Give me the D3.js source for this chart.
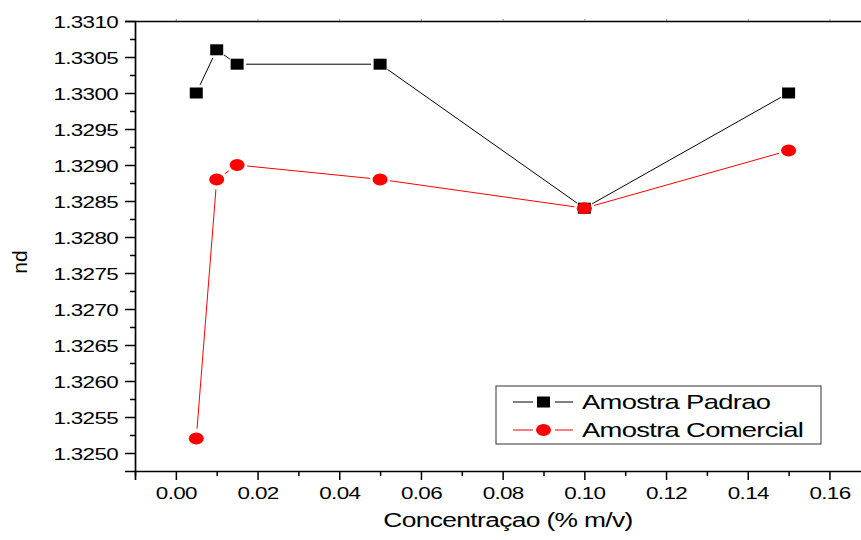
<!DOCTYPE html>
<html>
<head>
<meta charset="utf-8">
<script src="https://cdn.jsdelivr.net/npm/d3@7"></script>
<style>
  html, body { margin: 0; padding: 0; background: #fff; }
  svg { display: block; }
  text { font-family: "Liberation Sans", Arial, sans-serif; fill: #000; }
</style>
</head>
<body>
<script>
// Refractive index (nd) versus concentration for the two samples
const concentrations = [0.005, 0.01, 0.015, 0.05, 0.10, 0.15];
const padraoValues = [1.3300, 1.3306, 1.3304, 1.3304, 1.3284, 1.3300];
const comercialValues = [1.3252, 1.3288, 1.3290, 1.3288, 1.3284, 1.3292];
const seriesNames = ["Amostra Padrao", "Amostra Comercial"];
const xTickValues = [0.00, 0.02, 0.04, 0.06, 0.08, 0.10, 0.12, 0.14, 0.16];
const xMinorValues = [-0.01, 0.01, 0.03, 0.05, 0.07, 0.09, 0.11, 0.13, 0.15];
const yTickValues = [1.3250, 1.3255, 1.3260, 1.3265, 1.3270, 1.3275, 1.3280,
                     1.3285, 1.3290, 1.3295, 1.3300, 1.3305, 1.3310];
const yMinorValues = [1.32525, 1.32575, 1.32625, 1.32675, 1.32725, 1.32775,
                      1.32825, 1.32875, 1.32925, 1.32975, 1.33025, 1.33075];
const xTitle = "Concentraçao (% m/v)";
const yTitle = "nd";

const W = 861, H = 540;
const SX = 1.32; // horizontal glyph stretch
const LS = "-0.5px"; // tight letter spacing

const svg = d3.select("body").append("svg").attr("width", W).attr("height", H);

const x = d3.scaleLinear().domain([-0.01, 0.17]).range([135, 870.3]);
const y = d3.scaleLinear().domain([1.32475, 1.3310]).range([471, 21]);

const fmtX = d3.format(".2f");
const fmtY = d3.format(".4f");

// Bottom axis: major + minor ticks
const gx = svg.append("g").attr("transform", `translate(0,${y.range()[0]})`);
gx.call(d3.axisBottom(x).tickValues(xTickValues).tickSize(9).tickPadding(7).tickFormat(fmtX));
svg.append("g").attr("transform", `translate(0,${y.range()[0]})`)
  .call(d3.axisBottom(x).tickValues(xMinorValues).tickSize(5).tickFormat(""))
  .select(".domain").remove();

// Left axis: major + minor ticks
const gy = svg.append("g").attr("transform", `translate(${x.range()[0]},0)`);
gy.call(d3.axisLeft(y).tickValues(yTickValues).tickSize(10).tickPadding(7).tickFormat(fmtY));
svg.append("g").attr("transform", `translate(${x.range()[0]},0)`)
  .call(d3.axisLeft(y).tickValues(yMinorValues).tickSize(5).tickFormat(""))
  .select(".domain").remove();

// Top axis: line with tiny ticks
svg.append("g").attr("transform", `translate(0,${y.range()[1]})`)
  .call(d3.axisTop(x).tickValues(xTickValues).tickSizeInner(2).tickSizeOuter(0).tickFormat(""))
  .call(g => g.selectAll(".tick line").attr("stroke", "#888"));

svg.selectAll(".domain").attr("stroke", "#000").attr("stroke-width", 1.7);
svg.selectAll(".tick line").filter(function () { return this.getAttribute("stroke") !== "#888"; })
  .attr("stroke", "#000").attr("stroke-width", 1.5);

// Tick labels with stretched glyphs
gx.selectAll(".tick text").each(function () {
  const t = d3.select(this);
  const dy = +t.attr("y");
  t.attr("y", null).attr("dy", null)
    .attr("transform", `translate(0,${dy + 12}) scale(${SX},1)`)
    .attr("font-size", 17).attr("letter-spacing", LS)
    .attr("font-family", "Liberation Sans, Arial, sans-serif")
    .attr("text-anchor", "middle");
});
gy.selectAll(".tick text").each(function () {
  const t = d3.select(this);
  t.attr("x", null).attr("dy", "0.36em")
    .attr("transform", `translate(-17,0) scale(${SX},1)`)
    .attr("font-size", 17).attr("letter-spacing", LS)
    .attr("font-family", "Liberation Sans, Arial, sans-serif")
    .attr("text-anchor", "end");
});

// Axis titles
svg.append("text")
  .attr("transform", `translate(508,527) scale(${SX},1)`)
  .attr("text-anchor", "middle").attr("font-size", 20).attr("letter-spacing", LS)
  .text(xTitle);
svg.append("text")
  .attr("transform", "translate(27,262) rotate(-90)")
  .attr("text-anchor", "middle").attr("font-size", 21).text(yTitle);

// Series: gapped connecting segments, then markers
function drawSeries(values, color, gap) {
  const pts = concentrations.map((c, i) => [x(c), y(values[i])]);
  const segs = [];
  for (let i = 0; i < pts.length - 1; i++) {
    const [x0, y0] = pts[i], [x1, y1] = pts[i + 1];
    const dx = x1 - x0, dy = y1 - y0, len = Math.hypot(dx, dy);
    if (len <= 2 * gap) continue;
    const ux = dx / len, uy = dy / len;
    segs.push([x0 + ux * gap, y0 + uy * gap, x1 - ux * gap, y1 - uy * gap]);
  }
  svg.append("g").selectAll("line").data(segs).join("line")
    .attr("x1", d => d[0]).attr("y1", d => d[1])
    .attr("x2", d => d[2]).attr("y2", d => d[3])
    .attr("stroke", color).attr("stroke-width", 1);
  return pts;
}

const ptsP = drawSeries(padraoValues, "#000", 9);
svg.append("g").selectAll("rect").data(ptsP).join("rect")
  .attr("x", d => d[0] - 6.5).attr("y", d => d[1] - 5.5)
  .attr("width", 13).attr("height", 11).attr("fill", "#000");

const ptsC = drawSeries(comercialValues, "#ff0000", 10);
svg.append("g").selectAll("ellipse").data(ptsC).join("ellipse")
  .attr("cx", d => d[0]).attr("cy", d => d[1])
  .attr("rx", 7.5).attr("ry", 6).attr("fill", "#ff0000");

// Legend
const lg = svg.append("g");
lg.append("rect").attr("x", 496).attr("y", 386).attr("width", 325).attr("height", 58)
  .attr("fill", "#fff").attr("stroke", "#333").attr("stroke-width", 1);
const legendRows = [
  { name: seriesNames[0], color: "#000", shape: "square", cy: 402 },
  { name: seriesNames[1], color: "#ff0000", shape: "circle", cy: 430 }
];
legendRows.forEach(r => {
  lg.append("line").attr("x1", 513).attr("x2", 533).attr("y1", r.cy).attr("y2", r.cy)
    .attr("stroke", r.color).attr("stroke-width", 1);
  lg.append("line").attr("x1", 555).attr("x2", 573).attr("y1", r.cy).attr("y2", r.cy)
    .attr("stroke", r.color).attr("stroke-width", 1);
  if (r.shape === "square") {
    lg.append("rect").attr("x", 537).attr("y", r.cy - 5.5).attr("width", 13).attr("height", 11)
      .attr("fill", r.color);
  } else {
    lg.append("ellipse").attr("cx", 543.5).attr("cy", r.cy).attr("rx", 7.5).attr("ry", 6)
      .attr("fill", r.color);
  }
  lg.append("text").attr("transform", `translate(582,${r.cy + 7}) scale(1.37,1)`)
    .attr("font-size", 20).attr("letter-spacing", LS).text(r.name);
});
</script>
</body>
</html>
